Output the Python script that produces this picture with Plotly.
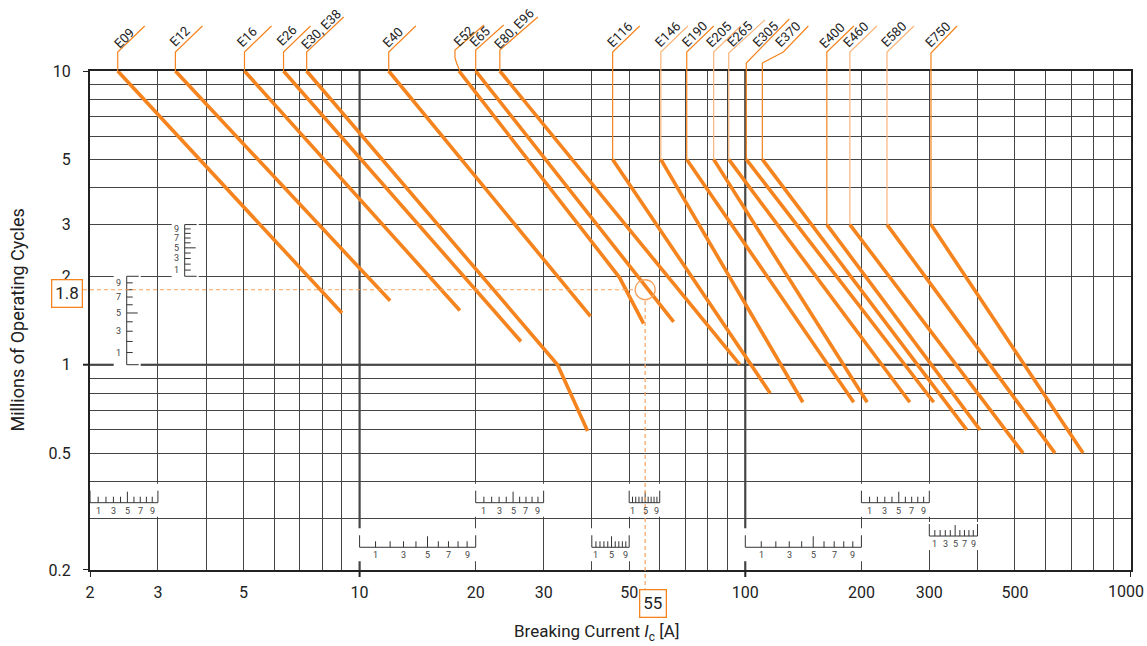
import numpy as np
import plotly.graph_objects as go

# ---------------- data ----------------
labels = ["E09", "E12", "E16", "E26", "E30, E38", "E40", "E52", "E65", "E80, E96",
          "E116", "E146", "E190", "E205", "E265", "E305", "E370",
          "E400", "E460", "E580", "E750"]

line_x = [[2.36, 9.0], [3.33, 12.0], [5.03, 18.2], [6.35, 26.2], [7.29, 32.6, 39.0],
          [11.9, 39.7], [18.1, 47.2, 54.5], [20.0, 65.2], [23.1, 96.8],
          [45.3, 116], [60.4, 141], [70.5, 191], [82.8, 207], [90.6, 267],
          [100.6, 308], [110.7, 375],
          [162.7, 406], [186.7, 525], [233, 635], [303, 751]]
line_y = [[10, 1.5], [10, 1.65], [10, 1.53], [10, 1.2], [10, 1.0, 0.595],
          [10, 1.46], [10, 1.98, 1.38], [10, 1.4], [10, 1.0],
          [5, 0.8], [5, 0.745], [5, 0.745], [5, 0.745], [5, 0.745],
          [5, 0.745], [5, 0.6],
          [3, 0.6], [3, 0.5], [3, 0.5], [3, 0.5]]

highlight_current = 55
highlight_cycles = 1.8

x_tick_labels = [2, 3, 5, 10, 20, 30, 50, 100, 200, 300, 500, 1000]
y_tick_labels = [0.2, 0.3, 0.5, 1, 2, 3, 5, 10]

# small subdivision rulers: (position, from, to, labelled subdivisions)
y_rulers = [(2.49, 1, 2, [1, 3, 5, 7, 9]),
            (3.52, 2, 3, [1, 3, 5, 7, 9])]
x_rulers = [(2, 3, 0.339, [1, 3, 5, 7, 9]),
            (10, 20, 0.239, [1, 3, 5, 7, 9]),
            (20, 30, 0.339, [1, 3, 5, 7, 9]),
            (40, 50, 0.239, [1, 5, 9]),
            (50, 60, 0.339, [1, 5, 9]),
            (100, 200, 0.239, [1, 3, 5, 7, 9]),
            (200, 300, 0.339, [1, 3, 5, 7, 9]),
            (300, 400, 0.261, [1, 3, 5, 7, 9])]

# ---------------- layout geometry / style ----------------
W, H = 1147, 646
ML, MR, MT, MB = 90, 16, 71, 76
PW, PH = W - ML - MR, H - MT - MB
X0, X1 = 2, 1000
Y0, Y1 = 0.2, 10
XDEC = np.log10(X1 / X0)
YDEC = np.log10(Y1 / Y0)

ORANGE = "#F5841F"
PALE = "#F8B57C"
DASH = "#F6A25E"
GRID = "#454545"
DARK = "#222222"
FONT = "Roboto, Liberation Sans, sans-serif"


def fx(px):
    return 10 ** (px * XDEC / PW)


def fy(px):
    return 10 ** (px * YDEC / PH)


def below_top_px(v):
    return (np.log10(Y1) - np.log10(v)) / YDEC * PH


def xpaper(v):
    return (np.log10(v) - np.log10(X0)) / XDEC


def ypaper(v):
    return (np.log10(v) - np.log10(Y0)) / YDEC


# label leader styles: (top of vertical above plot px, further points)
leader_style = {
    "E30, E38": (19, [(37, 54)]),
    "E52": (21, [(25, 46)]),
    "E65": (21, [(28, 46)]),
    "E80, E96": (21, [(38, 54)]),
    "E265": (18, [(36, 51)]),
    "E305": (8, [(43, 52)]),
    "E370": (8, [(21, 19), (46, 45)]),
    "E750": (18, [(26, 45)]),
}
pale_leaders = {"E146", "E205", "E265", "E460", "E580"}
label_offset = [(6, 33), (4.3, 34.3), (3, 34.3), (3.4, 35.2), (14.1, 41.8), (4, 33.5),
                (4.7, 34.3), (4.4, 34.3), (14.3, 42.7), (7, 36.8), (6.5, 36.8), (7.5, 36.8),
                (5.2, 36.8), (10.5, 37), (19, 36.5), (25.2, 37), (5, 36), (5.8, 36.8),
                (6.5, 36.8), (6.8, 36.8)]

fig = go.Figure()

for name, xs, ys in zip(labels, line_x, line_y):
    fig.add_trace(go.Scatter(x=xs, y=ys, mode="lines", name=name, showlegend=False,
                             hoverinfo="skip",
                             line=dict(color=ORANGE, width=3.6)))

shapes = []
annotations = []

# ---- rulers (white gaps first, then marks) ----
for (xp, a, b, labs) in y_rulers:
    shapes.append(dict(type="rect", xref="x", yref="y", layer="between",
                       x0=xp * fx(-13), x1=xp * fx(14), y0=a * fy(-1.5), y1=b * fy(1.5),
                       fillcolor="white", line=dict(width=0)))
for (a, b, yp, labs) in x_rulers:
    top = 19 if abs(yp - 0.261) > 0.01 else 14
    shapes.append(dict(type="rect", xref="x", yref="y", layer="between",
                       x0=a * fx(-2.5), x1=b * fx(2.5), y0=yp * fy(-14), y1=yp * fy(top),
                       fillcolor="white", line=dict(width=0)))

RL = dict(color="#333333", width=1)
for (xp, a, b, labs) in y_rulers:
    step = (b - a) / 10
    shapes.append(dict(type="line", xref="x", yref="y", layer="between",
                       x0=xp, x1=xp, y0=a, y1=b, line=RL))
    for k in range(0, 11):
        v = a + k * step
        ln = 12 if k in (0, 10) else (11 if k == 5 else 6)
        shapes.append(dict(type="line", xref="x", yref="y", layer="between",
                           xsizemode="pixel", xanchor=xp, x0=0, x1=ln, y0=v, y1=v, line=RL))
    for k in labs:
        annotations.append(dict(x=np.log10(xp), y=np.log10(a + k * step), xref="x", yref="y",
                                text=str(k), showarrow=False, xshift=-8,
                                font=dict(size=9, color="#444", family=FONT)))
for (a, b, yp, labs) in x_rulers:
    step = (b - a) / 10
    shapes.append(dict(type="line", xref="x", yref="y", layer="between",
                       x0=a, x1=b, y0=yp, y1=yp, line=RL))
    for k in range(0, 11):
        v = a + k * step
        ln = 12 if k in (0, 10) else (11 if k == 5 else 6)
        shapes.append(dict(type="line", xref="x", yref="y", layer="between",
                           ysizemode="pixel", yanchor=yp, y0=0, y1=ln, x0=v, x1=v, line=RL))
    for k in labs:
        annotations.append(dict(x=np.log10(a + k * step), y=np.log10(yp), xref="x", yref="y",
                                text=str(k), showarrow=False, yshift=-8,
                                font=dict(size=9, color="#444", family=FONT)))

# ---- thicker decade lines ----
for xv in [10, 100]:
    shapes.append(dict(type="line", xref="x", yref="paper", layer="between",
                       x0=xv, x1=xv, y0=0, y1=1, line=dict(color=DARK, width=2)))
shapes.append(dict(type="line", xref="paper", yref="y", layer="between",
                   x0=0, x1=1, y0=1, y1=1, line=dict(color=DARK, width=2)))

# ---- decade ticks outside ----
for xv in [2, 10, 100, 1000]:
    shapes.append(dict(type="line", xref="x", yref="paper", x0=xv, x1=xv,
                       y0=0, y1=-7 / PH, line=dict(color=DARK, width=2)))
for yv in [0.2, 1, 10]:
    shapes.append(dict(type="line", xref="paper", yref="y", x0=0, x1=-7 / PW,
                       y0=yv, y1=yv, line=dict(color=DARK, width=2)))

# ---- leaders & labels ----
for i, name in enumerate(labels):
    xs, ys = line_x[i][0], line_y[i][0]
    d = below_top_px(ys)
    top, pts = leader_style.get(name, (19, [(27, 45)]))
    if name == "E52":
        path = f"M 1,{-d:.1f} Q -2,6 -4,13 L -4,{top} "
    else:
        path = f"M 0,{-d:.1f} L 0,{top} "
    path += " ".join(f"L {px},{py}" for px, py in pts)
    col = PALE if name in pale_leaders else ORANGE
    shapes.append(dict(type="path", xref="x", yref="paper", xsizemode="pixel",
                       ysizemode="pixel", xanchor=xs, yanchor=1, path=path,
                       line=dict(color=col, width=1.2), layer="above"))
    dx, dy = label_offset[i]
    annotations.append(dict(x=np.log10(xs), y=1, xref="x", yref="paper", text=name,
                            showarrow=False, textangle=-45, xshift=dx, yshift=dy,
                            xanchor="center", yanchor="middle",
                            font=dict(size=13, color=DARK, family=FONT)))

# ---- highlight (55 A, 1.8 million) ----
R = 10
shapes.append(dict(type="circle", xref="x", yref="y",
                   x0=highlight_current * fx(-R), x1=highlight_current * fx(R),
                   y0=highlight_cycles * fy(-R), y1=highlight_cycles * fy(R),
                   line=dict(color=DASH, width=1.3), layer="above"))
shapes.append(dict(type="line", xref="paper", yref="y", x0=-7 / PW,
                   x1=xpaper(highlight_current) - R / PW,
                   y0=highlight_cycles, y1=highlight_cycles,
                   line=dict(color=DASH, width=1.2, dash="4px,3px"), layer="above"))
shapes.append(dict(type="line", xref="x", yref="paper", x0=highlight_current,
                   x1=highlight_current, y0=-22 / PH, y1=ypaper(highlight_cycles) - R / PH,
                   line=dict(color=DASH, width=1.2, dash="4px,3px"), layer="above"))

annotations.append(dict(x=-7 / PW, y=np.log10(highlight_cycles), xref="paper", yref="y",
                        text=str(highlight_cycles), showarrow=False, xanchor="right",
                        yanchor="middle", yshift=-4, bordercolor=ORANGE, borderwidth=1.3,
                        borderpad=3, bgcolor="white",
                        font=dict(size=17, color=DARK, family=FONT)))
annotations.append(dict(x=np.log10(highlight_current), y=-22 / PH, xref="x", yref="paper",
                        text=str(highlight_current), showarrow=False, xanchor="center",
                        yanchor="top", xshift=8, yshift=3, bordercolor=ORANGE, borderwidth=1.3,
                        borderpad=3, bgcolor="white",
                        font=dict(size=17, color=DARK, family=FONT)))

# last x tick label kept inside the page
x_last = x_tick_labels[-1]
annotations.append(dict(x=np.log10(x_last), y=0, xref="x", yref="paper", text=f"{x_last:g}",
                        showarrow=False, xanchor="right", yanchor="top", xshift=15, yshift=-10,
                        font=dict(size=16, color=DARK, family=FONT)))

# ---- axis titles ----
annotations.append(dict(x=(17 - ML) / PW, y=0.5, xref="paper", yref="paper",
                        xanchor="center", yanchor="middle",
                        text="Millions of Operating Cycles", textangle=-90, showarrow=False,
                        font=dict(size=18, color=DARK, family=FONT)))
annotations.append(dict(x=(596 - ML) / PW, y=-(632 - (H - MB)) / PH, xref="paper", yref="paper",
                        xanchor="center", yanchor="middle",
                        text="Breaking Current <i>I</i><sub>c</sub> [A]", showarrow=False,
                        font=dict(size=17, color=DARK, family=FONT)))

# grid values
x_grid = [k * 10 ** e for e in range(0, 3) for k in range(1, 10) if k * 10 ** e >= 2] + [1000]
y_grid = [k * 10 ** e for e in range(-1, 1) for k in range(1, 10) if k * 10 ** e >= 0.2] + [10]


def fmt(v):
    return f"{v:g}"


fig.update_layout(
    width=W, height=H,
    margin=dict(l=ML, r=MR, t=MT, b=MB, autoexpand=False),
    plot_bgcolor="white", paper_bgcolor="white",
    font=dict(family=FONT, color=DARK),
    shapes=shapes, annotations=annotations,
    xaxis=dict(type="log", range=[np.log10(X0), np.log10(X1)],
               tickvals=x_grid,
               ticktext=[fmt(v) if (v in x_tick_labels and v != x_last) else " " for v in x_grid],
               ticks="", showgrid=True, gridcolor=GRID, gridwidth=1.2,
               showline=True, linecolor=DARK, linewidth=2, mirror=True,
               tickfont=dict(size=16, color=DARK, family=FONT),
               tickangle=0, automargin=False,
               ticklabeloverflow="allow",
               ticklabelstandoff=7, zeroline=False, fixedrange=True),
    yaxis=dict(type="log", range=[np.log10(Y0), np.log10(Y1)],
               tickvals=y_grid,
               ticktext=[fmt(v) if v in y_tick_labels else " " for v in y_grid],
               ticks="", showgrid=True, gridcolor=GRID, gridwidth=1.2,
               showline=True, linecolor=DARK, linewidth=2, mirror=True,
               tickfont=dict(size=16, color=DARK, family=FONT),
               tickangle=0, automargin=False,
               ticklabeloverflow="allow",
               ticklabelstandoff=14, zeroline=False, fixedrange=True),
)

fig.write_html("out.html", config={"displayModeBar": False},
               post_script="document.body.style.margin='0';document.body.style.overflow='hidden';")
